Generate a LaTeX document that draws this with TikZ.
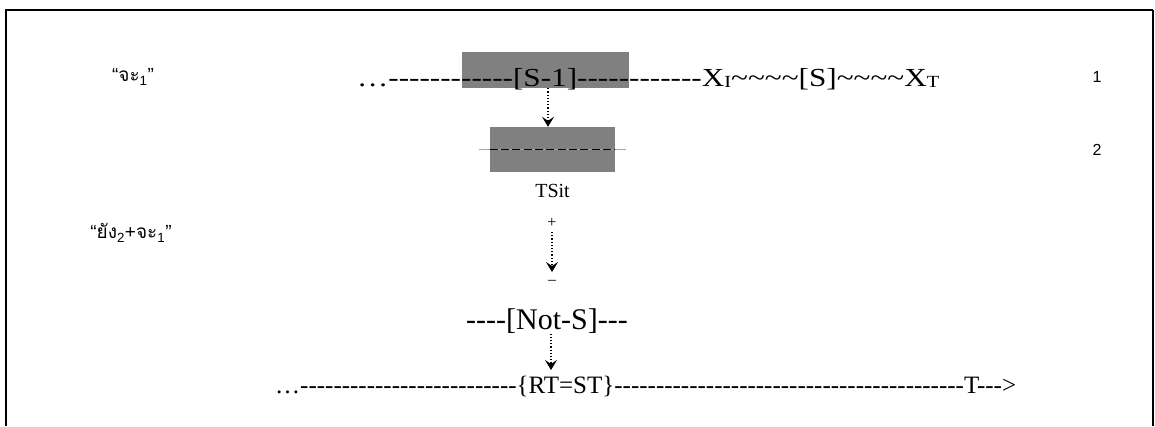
\documentclass[tikz,border=0pt]{standalone}
\usepackage{fontspec}
\setmainfont{Liberation Serif}[Ligatures=TeXOff]
\newfontfamily\widefont{Liberation Serif}[FakeStretch=1.2,Ligatures=TeXOff]
\newfontfamily\thaifont[Script=Thai]{Loma}
\newfontfamily\numfont{Liberation Sans}
\usepackage{tikz}
\usetikzlibrary{arrows.meta,positioning}
\newcommand{\tl}{\textasciitilde}
\newcommand{\lowsub}[1]{\raisebox{-1pt}{\fontsize{17}{17}\selectfont #1}}
\newcommand{\qsub}[1]{{\numfont\textsubscript{#1}}}
\tikzset{
  >={Stealth[length=10pt,width=12pt,inset=4pt]},
  dotflow/.style={->,dotted,line width=1.2pt},
  shadebox/.style={fill=gray,inner sep=0pt},
  rowtext/.style={inner sep=0pt,anchor=base west},
  thailabel/.style={inner sep=0pt,font=\thaifont\fontsize{19}{19}\selectfont},
  numlabel/.style={inner sep=0pt,font=\numfont\fontsize{16}{16}\selectfont}
}
\begin{document}
\begin{tikzpicture}[x=1pt,y=-1pt]
  \useasboundingbox (0,0) rectangle (1155,426);
  % frame, open at the bottom
  \draw[line width=2pt] (6,426) -- (6,10) -- (1153,10);
  \draw[line width=1.3pt] (1153,10) -- (1153,426);

  % left labels and line numbers
  \node[thailabel] (jaLbl) at (133,77) {{\numfont“}จะ\qsub{1}{\numfont”}};
  \node[thailabel] (yangLbl) at (131,233) {{\numfont“}ยัง\qsub{2}{\numfont+}จะ\qsub{1}{\numfont”}};
  \node[numlabel] (numOne) at (1097,77) {1};
  \node[numlabel] (numTwo) at (1097,150) {2};

  % line 1
  \node[shadebox,minimum width=167pt,minimum height=36pt] (sBox) at (545.5,70) {};
  \node[rowtext,font=\widefont\fontsize{26}{26}\selectfont] (rowOne) at (357,86)
    {…------------[S-1]------------X\lowsub{I}\tl\tl\tl\tl[S]\tl\tl\tl\tl X\lowsub{T}};

  % line 2
  \node[shadebox,minimum width=125pt,minimum height=45pt] (tsitBox) at (552.5,149.5) {};
  \draw[black!35,line width=1pt] ([xshift=-11pt]tsitBox.west) -- ([xshift=11pt]tsitBox.east);
  \draw[line width=1.7pt,dash pattern=on 8pt off 3.3pt] (tsitBox.west) -- (tsitBox.east);
  \node[inner sep=0pt,font=\fontsize{20}{20}\selectfont,below=12pt of tsitBox] (tsit) {TSit};
  \draw[dotflow] (sBox.south -| 548,0) -- (tsitBox.north -| 548,0);

  % change of polarity
  \node[inner sep=0pt,font=\fontsize{16}{16}\selectfont] (plus) at (552,223) {+};
  \node[inner sep=0pt,font=\fontsize{16}{16}\selectfont] (minus) at (552,282) {\textendash};
  \draw[dotflow] (552,232) -- (552,272);

  % not-S and reference time
  \node[inner sep=0pt,font=\fontsize{30}{30}\selectfont] (notS) at (547,321) {----[Not-S]---};
  \node[rowtext,font=\fontsize{25}{25}\selectfont] (rtst) at (275,393)
    {…--------------------------\{RT=ST\}------------------------------------------T--->};
  \coordinate (landing) at (551,370);
  \draw[dotflow] (notS.south -| landing) -- (landing);
\end{tikzpicture}
\end{document}
